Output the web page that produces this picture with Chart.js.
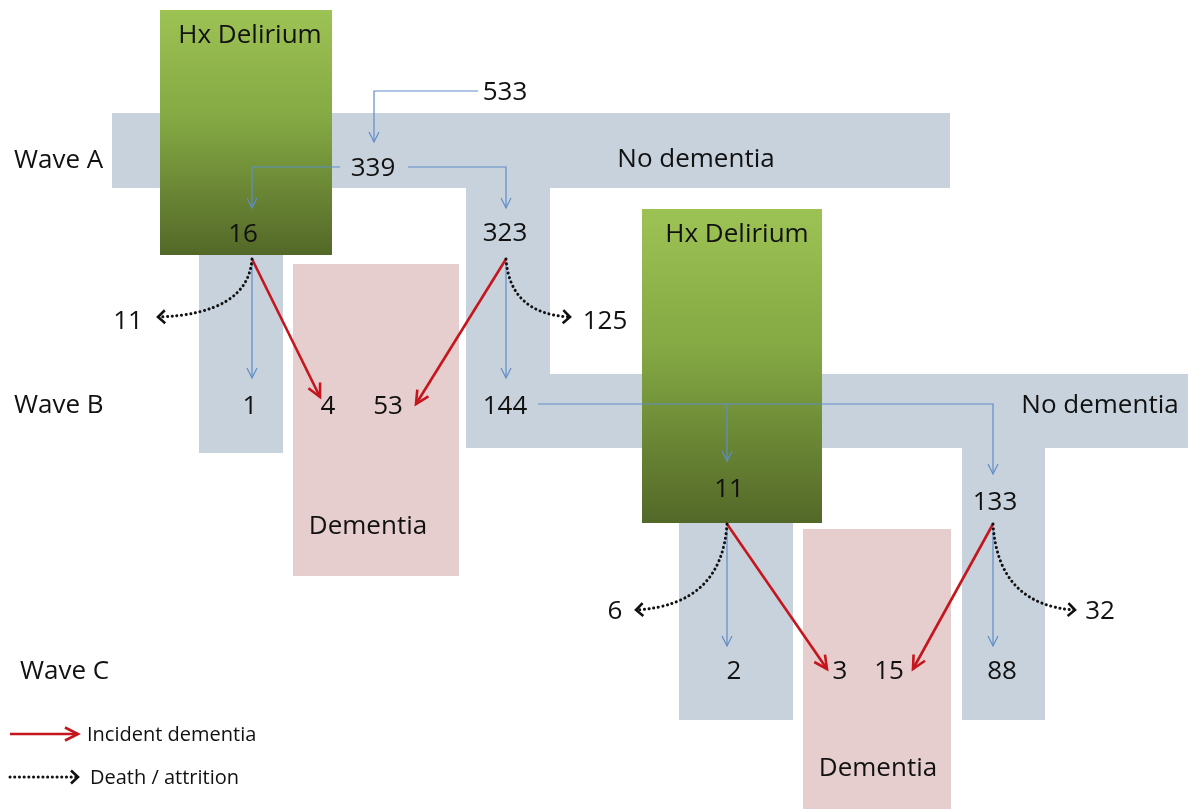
<!DOCTYPE html>
<html lang="en">
<head>
  <meta charset="UTF-8">
  <title>Delirium and incident dementia across waves</title>
  <script src="https://cdn.jsdelivr.net/npm/chart.js"></script>
  <style>
    body { margin: 0; background: #fff; }
  </style>
</head>
<body>
  <canvas id="flowChart" width="1188" height="809"></canvas>

  <script>
    // counts
    const waveLabels = ['Wave A', 'Wave B', 'Wave C'];
    const groupLabels = ['Hx Delirium', 'No dementia', 'Dementia'];
    const enrolled = 533;
    const waveA = [339, 16, 323];        // no dementia, with Hx delirium, without
    const lostAB = [11, 125];            // death / attrition A -> B
    const waveB = [1, 4, 53, 144];       // delirium->no dem, delirium->dem, no delirium->dem, no delirium->no dem
    const waveBSplit = [11, 133];        // the 144 split by Hx delirium
    const lostBC = [6, 32];
    const waveC = [2, 3, 15, 88];
    const legendLabels = ['Incident dementia', 'Death / attrition'];

    // layout, in axis units (axes span the whole canvas)
    const grayRects = [[112, 113, 950, 188], [466, 188, 550, 448], [550, 374, 1188, 448],
                       [199, 255, 283, 453], [679, 523, 793, 720], [962, 448, 1045, 720]];
    const pinkRects = [[293, 264, 459, 576], [803, 529, 951, 809]];
    const greenRects = [[160, 10, 332, 255], [642, 209, 822, 523]];

    const bluePaths = [
      [[478, 91], [374, 91], [374, 142]],
      [[340, 167], [252, 167], [252, 208]],
      [[408, 167], [506, 167], [506, 208]],
      [[252, 262], [252, 378]],
      [[506, 262], [506, 378]],
      [[538, 404], [993, 404], [993, 474]],
      [[727, 404], [727, 461]],
      [[727, 527], [727, 646]],
      [[993, 527], [993, 646]]
    ];
    const redPaths = [
      [[252, 259], [320, 397]],
      [[506, 259], [416, 404]],
      [[727, 524], [827, 669]],
      [[993, 524], [913, 669]],
      [[10, 734], [78, 734]]
    ];
    const dotCurves = [
      [[252, 259], [248, 314], [158, 317]],
      [[506, 259], [510, 314], [570, 317]],
      [[727, 524], [722, 605], [636, 610]],
      [[993, 524], [998, 605], [1075, 610]],
      [[10, 777], [44, 777], [78, 777]]
    ];

    const textItems = [
      [waveLabels[0], 14, 161, 'left'],
      [waveLabels[1], 14, 406, 'left'],
      [waveLabels[2], 20, 672, 'left'],
      [groupLabels[0], 250, 36, 'center'],
      [groupLabels[0], 737, 235, 'center'],
      [groupLabels[1], 696, 160, 'center'],
      [groupLabels[1], 1100, 406, 'center'],
      [groupLabels[2], 368, 527, 'center'],
      [groupLabels[2], 878, 769, 'center'],
      [enrolled, 505, 93, 'center'],
      [waveA[0], 373, 169, 'center'],
      [waveA[1], 243, 235, 'center'],
      [waveA[2], 505, 234, 'center'],
      [lostAB[0], 128, 322, 'center'],
      [lostAB[1], 605, 322, 'center'],
      [waveB[0], 250, 407, 'center'],
      [waveB[1], 328, 407, 'center'],
      [waveB[2], 388, 407, 'center'],
      [waveB[3], 505, 407, 'center'],
      [waveBSplit[0], 729, 490, 'center'],
      [waveBSplit[1], 995, 503, 'center'],
      [lostBC[0], 615, 612, 'center'],
      [lostBC[1], 1100, 612, 'center'],
      [waveC[0], 734, 672, 'center'],
      [waveC[1], 840, 672, 'center'],
      [waveC[2], 889, 672, 'center'],
      [waveC[3], 1002, 672, 'center']
    ];

    const BLUE = '#5f8dc8';
    const RED = '#c4161c';
    const toXY = pts => pts.map(p => ({ x: p[0], y: p[1] }));

    const datasets = [];
    bluePaths.forEach(p => datasets.push({ data: toXY(p), showLine: true, borderColor: BLUE, borderWidth: 1.2, pointRadius: 0 }));
    redPaths.forEach(p => datasets.push({ data: toXY(p), showLine: true, borderColor: RED, borderWidth: 2.6, pointRadius: 0 }));

    function arrowHead(ctx, from, tip, len, half) {
      const dx = tip.x - from.x, dy = tip.y - from.y;
      const d = Math.hypot(dx, dy);
      const ux = dx / d, uy = dy / d;
      ctx.beginPath();
      ctx.moveTo(tip.x - ux * len - uy * half, tip.y - uy * len + ux * half);
      ctx.lineTo(tip.x, tip.y);
      ctx.lineTo(tip.x - ux * len + uy * half, tip.y - uy * len - ux * half);
      ctx.stroke();
    }

    const diagramPlugin = {
      id: 'diagram',
      beforeDatasetsDraw(chart) {
        const ctx = chart.ctx;
        const sx = chart.scales.x, sy = chart.scales.y;
        const rect = (r, fill) => {
          const x0 = sx.getPixelForValue(r[0]), y0 = sy.getPixelForValue(r[1]);
          const x1 = sx.getPixelForValue(r[2]), y1 = sy.getPixelForValue(r[3]);
          if (fill === 'green') {
            const g = ctx.createLinearGradient(0, y0, 0, y1);
            g.addColorStop(0, '#9dc254');
            g.addColorStop(0.45, '#84a843');
            g.addColorStop(1, '#536828');
            ctx.fillStyle = g;
          } else {
            ctx.fillStyle = fill;
          }
          ctx.fillRect(x0, y0, x1 - x0, y1 - y0);
        };
        ctx.save();
        grayRects.forEach(r => rect(r, '#c8d2dc'));
        pinkRects.forEach(r => rect(r, '#e6cdce'));
        greenRects.forEach(r => rect(r, 'green'));
        ctx.restore();
      },
      afterDatasetsDraw(chart) {
        const ctx = chart.ctx;
        const sx = chart.scales.x, sy = chart.scales.y;
        const px = p => ({ x: sx.getPixelForValue(p[0]), y: sy.getPixelForValue(p[1]) });
        ctx.save();

        // arrowheads on the straight connectors
        ctx.lineWidth = 1.2;
        ctx.strokeStyle = BLUE;
        bluePaths.forEach(p => arrowHead(ctx, px(p[p.length - 2]), px(p[p.length - 1]), 10, 5));
        ctx.lineWidth = 2.6;
        ctx.strokeStyle = RED;
        redPaths.forEach(p => arrowHead(ctx, px(p[0]), px(p[1]), 13, 6.5));

        // dotted death / attrition curves
        ctx.strokeStyle = '#111';
        dotCurves.forEach(c => {
          const a = px(c[0]), b = px(c[1]), e = px(c[2]);
          ctx.lineWidth = 3;
          ctx.lineCap = 'round';
          ctx.setLineDash([0.1, 4.6]);
          ctx.beginPath();
          ctx.moveTo(a.x, a.y);
          ctx.quadraticCurveTo(b.x, b.y, e.x, e.y);
          ctx.stroke();
          ctx.setLineDash([]);
          ctx.lineWidth = 2.6;
          ctx.lineCap = 'butt';
          arrowHead(ctx, b, e, 7, 6.5);
        });

        // labels and counts
        ctx.fillStyle = '#111';
        ctx.textBaseline = 'middle';
        ctx.font = '26px "Open Sans"';
        textItems.forEach(t => {
          const p = px([t[1], t[2]]);
          ctx.textAlign = t[3];
          ctx.fillText(String(t[0]), p.x, p.y);
        });

        ctx.font = '20px "Open Sans"';
        ctx.textAlign = 'left';
        ctx.fillText(legendLabels[0], sx.getPixelForValue(87), sy.getPixelForValue(735));
        ctx.fillText(legendLabels[1], sx.getPixelForValue(90), sy.getPixelForValue(778));
        ctx.restore();
      }
    };

    new Chart(document.getElementById('flowChart').getContext('2d'), {
      type: 'scatter',
      data: { datasets: datasets },
      options: {
        responsive: false,
        animation: false,
        devicePixelRatio: 1,
        layout: { padding: 0 },
        scales: {
          x: { type: 'linear', min: 0, max: 1188, display: false },
          y: { type: 'linear', min: 0, max: 809, reverse: true, display: false }
        },
        plugins: {
          legend: { display: false },
          tooltip: { enabled: false }
        }
      },
      plugins: [diagramPlugin]
    });
  </script>
</body>
</html>
